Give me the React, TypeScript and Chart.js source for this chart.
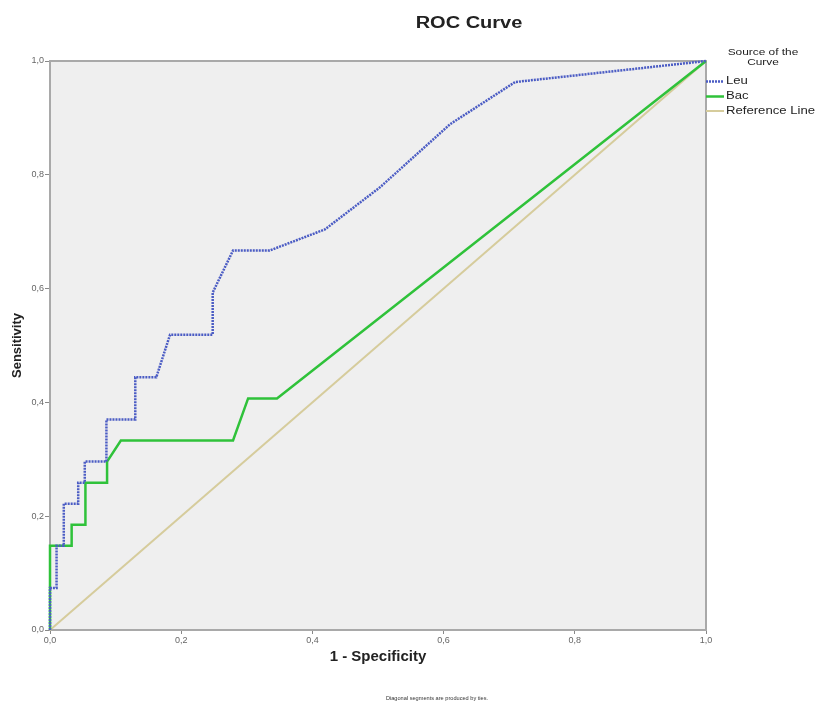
import React, { useEffect, useRef } from "react";
import { Chart, registerables } from "chart.js";

Chart.register(...registerables);

// 1 - Specificity / Sensitivity for each curve
const leuFpr = [0, 0, 0.010, 0.010, 0.021, 0.021, 0.043, 0.043, 0.053, 0.053, 0.086, 0.086, 0.130, 0.130, 0.162, 0.183, 0.248, 0.248, 0.279, 0.335, 0.419, 0.503, 0.610, 0.709, 1];
const leuTpr = [0, 0.074, 0.074, 0.148, 0.148, 0.222, 0.222, 0.259, 0.259, 0.296, 0.296, 0.370, 0.370, 0.444, 0.444, 0.519, 0.519, 0.593, 0.667, 0.667, 0.704, 0.778, 0.889, 0.963, 1];

const bacFpr = [0, 0, 0.033, 0.033, 0.054, 0.054, 0.087, 0.087, 0.108, 0.279, 0.302, 0.346, 1];
const bacTpr = [0, 0.148, 0.148, 0.185, 0.185, 0.259, 0.259, 0.296, 0.333, 0.333, 0.407, 0.407, 1];

const refFpr = [0, 1];
const refTpr = [0, 1];

const axisTicks = [0, 0.2, 0.4, 0.6, 0.8, 1.0];

const seriesNames = ["Leu", "Bac", "Reference Line"];
const seriesColors = ["#4b5cc4", "#2fc23a", "#d6cc9c"];

const chartTitle = "ROC Curve";
const xTitle = "1 - Specificity";
const yTitle = "Sensitivity";
const legendTitle = ["Source of the", "Curve"];
const footnote = "Diagonal segments are produced by ties.";

const toPoints = (xs: number[], ys: number[]) => xs.map((x, i) => ({ x, y: ys[i] }));
const fmt = (v: number) => v.toFixed(1).replace(".", ",");

function drawText(ctx: CanvasRenderingContext2D, text: string, x: number, y: number, size: number, bold: boolean, align: CanvasTextAlign, sx = 1.25, color = "#222") {
  ctx.save();
  ctx.translate(x, y);
  ctx.scale(sx, 1);
  ctx.font = `${bold ? "bold " : ""}${size}px "Liberation Sans", Arial, sans-serif`;
  ctx.fillStyle = color;
  ctx.textAlign = align;
  ctx.textBaseline = "middle";
  ctx.fillText(text, 0, 0);
  ctx.restore();
}

export default function App() {
  const ref = useRef<HTMLCanvasElement>(null);

  useEffect(() => {
    if (!ref.current) return;
    const decor = {
      id: "spssDecor",
      beforeDraw(chart: any) {
        const { ctx, chartArea: a } = chart;
        ctx.save();
        ctx.fillStyle = "#ffffff";
        ctx.fillRect(0, 0, chart.width, chart.height);
        ctx.fillStyle = "#efefef";
        ctx.fillRect(a.left, a.top, a.right - a.left, a.bottom - a.top);
        ctx.restore();
      },
      beforeDatasetsDraw(chart: any) {
        const { ctx, chartArea: a } = chart;
        ctx.save();
        ctx.strokeStyle = "#a9a9a9";
        ctx.lineWidth = 2;
        ctx.strokeRect(a.left, a.top, a.right - a.left, a.bottom - a.top);
        ctx.restore();
      },
      afterDraw(chart: any) {
        const { ctx, chartArea: a } = chart;
        drawText(ctx, chartTitle, 469, 24, 16, true, "center");
        drawText(ctx, legendTitle[0], 763, 52, 9.5, false, "center");
        drawText(ctx, legendTitle[1], 763, 62, 9.5, false, "center");
        const ys = [81.5, 96.5, 111];
        seriesNames.forEach((name, i) => {
          ctx.save();
          ctx.strokeStyle = seriesColors[i];
          ctx.lineWidth = i === 2 ? 2 : 2.5;
          if (i === 0) ctx.setLineDash([2, 1]);
          ctx.beginPath();
          ctx.moveTo(a.right, ys[i]);
          ctx.lineTo(a.right + 18, ys[i]);
          ctx.stroke();
          ctx.restore();
          drawText(ctx, name, a.right + 20, ys[i], 10.5, false, "left");
        });
        drawText(ctx, footnote, 437, 699, 4.5, false, "center", 1.25, "#333");
      },
    };

    const tickFont = { size: 9, family: '"Liberation Sans", Arial, sans-serif' };
    const setTicks = (s: any) => {
      s.ticks = axisTicks.map((v) => ({ value: v }));
    };

    const chart = new Chart(ref.current, {
      type: "scatter",
      data: {
        datasets: [
          {
            label: seriesNames[2],
            data: toPoints(refFpr, refTpr),
            showLine: true,
            borderColor: seriesColors[2],
            borderWidth: 2,
            pointRadius: 0,
            order: 3,
          },
          {
            label: seriesNames[1],
            data: toPoints(bacFpr, bacTpr),
            showLine: true,
            borderColor: seriesColors[1],
            borderWidth: 2.5,
            pointRadius: 0,
            order: 2,
          },
          {
            label: seriesNames[0],
            data: toPoints(leuFpr, leuTpr),
            showLine: true,
            borderColor: seriesColors[0],
            borderWidth: 2.5,
            borderDash: [2, 1],
            pointRadius: 0,
            order: 1,
          },
        ],
      },
      options: {
        responsive: false,
        animation: false,
        clip: false as any,
        layout: { padding: { left: 2, right: 113, top: 61, bottom: 24 } },
        plugins: {
          legend: { display: false },
          tooltip: { enabled: false },
          title: { display: false },
        },
        scales: {
          x: {
            type: "linear",
            min: 0,
            max: 1,
            afterBuildTicks: setTicks,
            afterFit: (s: any) => {
              s.height = 50;
            },
            ticks: {
              color: "#666",
              font: tickFont,
              padding: 1,
              maxRotation: 0,
              callback: (v: any) => fmt(Number(v)),
            },
            grid: { drawOnChartArea: false, drawTicks: true, tickLength: 4, tickColor: "#888", tickWidth: 1 },
            border: { display: false },
            title: {
              display: true,
              text: xTitle,
              color: "#222",
              font: { size: 15, weight: "bold", family: '"Liberation Sans", Arial, sans-serif' },
              padding: { top: 0, bottom: 14 },
            },
          },
          y: {
            type: "linear",
            min: 0,
            max: 1,
            afterBuildTicks: setTicks,
            afterFit: (s: any) => {
              s.width = 48;
            },
            ticks: {
              color: "#666",
              font: tickFont,
              padding: 1,
              callback: (v: any) => fmt(Number(v)),
            },
            grid: { drawOnChartArea: false, drawTicks: true, tickLength: 5, tickColor: "#888", tickWidth: 1 },
            border: { display: false },
            title: {
              display: true,
              text: yTitle,
              color: "#222",
              font: { size: 13, weight: "bold", family: '"Liberation Sans", Arial, sans-serif' },
              padding: { top: 8, bottom: 0 },
            },
          },
        },
      },
      plugins: [decor],
    });
    return () => chart.destroy();
  }, []);

  return (
    <div style={{ position: "absolute", left: 0, top: 0, width: 819, height: 704 }}>
      <canvas ref={ref} width={819} height={704} style={{ display: "block" }} />
    </div>
  );
}
